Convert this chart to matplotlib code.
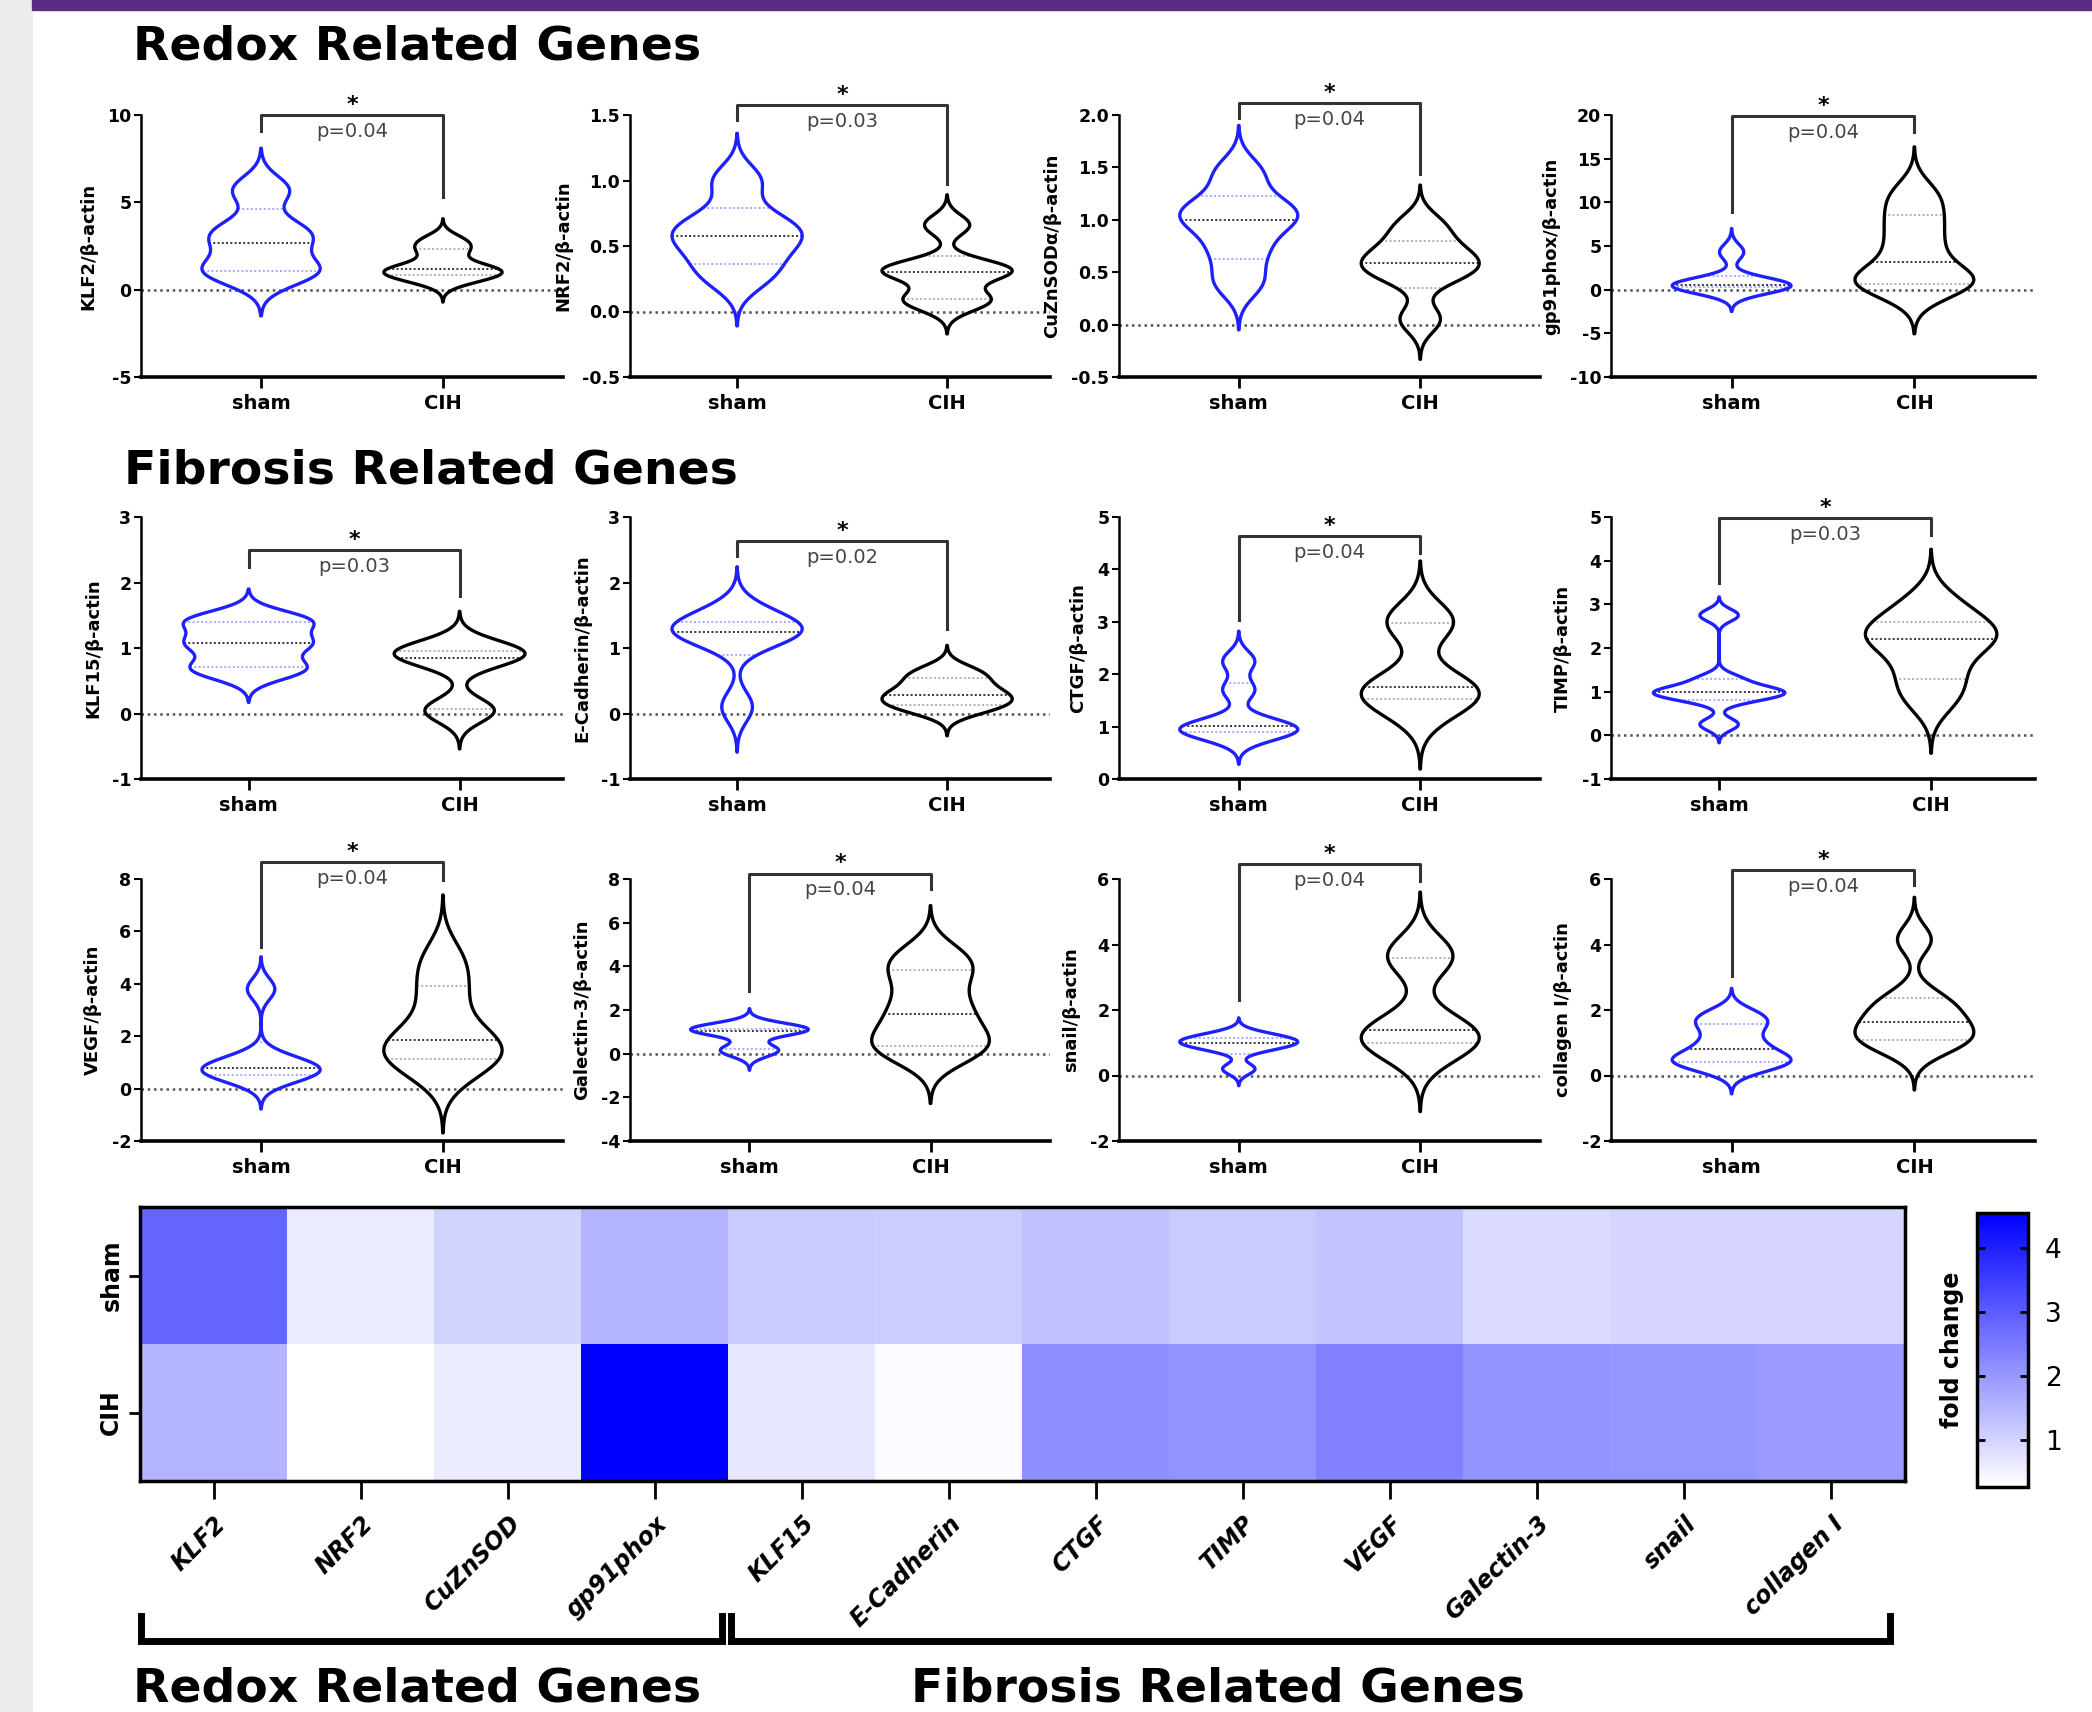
import numpy as np
import matplotlib
matplotlib.use("Agg")
import matplotlib.pyplot as plt
import matplotlib.transforms as mtransforms
from matplotlib.colors import LinearSegmentedColormap
from matplotlib.patches import Rectangle
from matplotlib.lines import Line2D

plt.rcParams["font.family"] = "DejaVu Sans"
plt.rcParams["axes.unicode_minus"] = False

# ---------------- data ----------------
genes = ["KLF2", "NRF2", "CuZnSOD", "gp91phox", "KLF15", "E-Cadherin",
         "CTGF", "TIMP", "VEGF", "Galectin-3", "snail", "collagen I"]
ylabels = ["KLF2/β-actin", "NRF2/β-actin", "CuZnSODα/β-actin", "gp91phox/β-actin",
           "KLF15/β-actin", "E-Cadherin/β-actin", "CTGF/β-actin", "TIMP/β-actin",
           "VEGF/β-actin", "Galectin-3/β-actin", "snail/β-actin", "collagen I/β-actin"]
groups = ["sham", "CIH"]

sham_vals = [
    [0.9, 1.2, 2.7, 3.5, 5.7],
    [0.25, 0.4, 0.55, 0.6, 0.72, 1.0],
    [0.4, 0.7, 0.95, 1.05, 1.15, 1.45],
    [0.2, 0.35, 0.5, 0.55, 0.7, 4.3],
    [0.62, 0.74, 1.02, 1.12, 1.38, 1.45],
    [0.1, 1.15, 1.2, 1.3, 1.35, 1.55],
    [0.85, 0.92, 0.97, 1.05, 1.7, 2.25],
    [0.25, 0.81, 0.95, 0.99, 1.05, 1.29, 2.75],
    [0.45, 0.56, 0.7, 0.88, 1.1, 3.8],
    [0.05, 0.25, 1.0, 1.08, 1.12, 1.25],
    [0.2, 0.8, 0.95, 1.03, 1.1, 1.25],
    [0.25, 0.45, 0.6, 1.0, 1.5, 1.85],
]
cih_vals = [
    [0.55, 0.9, 1.1, 1.3, 2.2, 2.8],
    [0.06, 0.11, 0.28, 0.32, 0.34, 0.66],
    [0.05, 0.45, 0.55, 0.62, 0.75, 0.95],
    [0.5, 0.77, 1.6, 4.8, 7.8, 10.8],
    [0.0, 0.09, 0.8, 0.9, 0.93, 1.02],
    [0.05, 0.15, 0.25, 0.33, 0.5, 0.65],
    [1.3, 1.6, 1.7, 1.82, 2.95, 3.05],
    [0.85, 1.44, 2.1, 2.3, 2.45, 3.0],
    [0.8, 1.25, 1.6, 2.1, 3.6, 4.9],
    [0.0, 0.45, 1.3, 2.3, 3.6, 4.5],
    [0.7, 1.1, 1.2, 1.6, 3.5, 3.8],
    [0.85, 1.09, 1.3, 1.63, 2.0, 2.38, 4.15],
]
p_values = ["0.04", "0.03", "0.04", "0.04", "0.03", "0.02",
            "0.04", "0.03", "0.04", "0.04", "0.04", "0.04"]

# heatmap of mean fold change
sham_fold = [2.86, 0.61, 1.00, 1.53, 1.16, 1.13, 1.31, 1.16, 1.26, 0.88, 0.98, 0.98]
cih_fold = [1.52, 0.27, 0.59, 4.55, 0.68, 0.37, 2.17, 2.07, 2.39, 2.09, 2.05, 1.95]

# ---------------- styling / layout ----------------
# kernel smoothing of each violin
sham_bw = [0.8, 0.12, 0.15, 0.9, 0.15, 0.23, 0.19, 0.14, 0.41, 0.27, 0.17, 0.27]
cih_bw = [0.42, 0.077, 0.127, 1.85, 0.18, 0.13, 0.37, 0.42, 0.83, 0.76, 0.6, 0.43]

ylims = [(-5, 10), (-0.5, 1.5), (-0.5, 2.0), (-10, 20), (-1, 3), (-1, 3),
         (0, 5), (-1, 5), (-2, 8), (-4, 8), (-2, 6), (-2, 6)]
ysteps = [5, 0.5, 0.5, 5, 1, 1, 1, 1, 2, 2, 2, 2]
narrow, wide = (-0.66, 1.66), (-0.51, 1.49)
xlims = [narrow, wide, narrow, narrow, wide, wide, narrow, wide,
         narrow, narrow, narrow, narrow]
# bracket: top, left leg end, right leg end (data units)
brackets = [(10, 9.1, 5.3), (1.576, 1.46, 0.97), (2.11, 1.97, 1.44), (19.9, 8.9, 18.1),
            (2.49, 2.24, 1.8), (2.63, 2.41, 1.29), (4.64, 3.03, 4.32), (4.98, 3.49, 4.58),
            (8.63, 5.41, 7.95), (8.25, 2.88, 7.56), (6.45, 2.31, 5.95), (6.27, 3.03, 5.83)]

BLUE = "#1f1fff"
W, H = 2092, 1712
rows_y = [(115, 377), (517, 779), (879, 1141)]
cols_x = [(141, 563), (630, 1050), (1119, 1540), (1611, 2035)]


def rect(x0, y0, x1, y1):
    return [x0 / W, 1 - y1 / H, (x1 - x0) / W, (y1 - y0) / H]


def violin(ax, vals, pos, bw, width, edge, qcol):
    vals = np.asarray(vals, float)
    ys = np.linspace(vals.min() - 3 * bw, vals.max() + 3 * bw, 600)
    dens = np.exp(-0.5 * ((ys[:, None] - vals[None, :]) / bw) ** 2).sum(axis=1)
    stats = [dict(coords=ys, vals=dens, mean=vals.mean(), median=np.median(vals),
                  min=ys[0], max=ys[-1])]
    parts = ax.violin(stats, positions=[pos], widths=width, showextrema=False)
    body = parts["bodies"][0]
    body.set_alpha(1)
    body.set_facecolor("none")
    body.set_edgecolor(edge)
    body.set_linewidth(2.4)
    body.set_zorder(3)
    half = dens / dens.max() * width / 2
    q1, q2, q3 = np.percentile(vals, [25, 50, 75], method="weibull")
    for q, c in ((q1, qcol), (q3, qcol), (q2, "#333333")):
        hw = np.interp(q, ys, half)
        ax.plot([pos - hw, pos + hw], [q, q], color=c, lw=1.4, ls=(0, (1, 1.2)), zorder=2)


fig = plt.figure(figsize=(W / 100, H / 100), dpi=100)
fig.patches.append(Rectangle((0, 0), 32 / W, 1, transform=fig.transFigure,
                             color="#ececec", zorder=0))
fig.patches.append(Rectangle((32 / W, 1 - 10 / H), 1, 10 / H, transform=fig.transFigure,
                             color="#5b2c83", zorder=0))

fig.text(133 / W, 1 - 60 / H, "Redox Related Genes", fontsize=34, fontweight="bold",
         va="baseline")
fig.text(124 / W, 1 - 483 / H, "Fibrosis Related Genes", fontsize=34, fontweight="bold",
         va="baseline")

for i in range(12):
    r, c = divmod(i, 4)
    ax = fig.add_axes(rect(cols_x[c][0], rows_y[r][0], cols_x[c][1], rows_y[r][1]))
    xl, yl, step = xlims[i], ylims[i], ysteps[i]
    width = 0.65 if xl == narrow else 0.62

    ax.axhline(0, color="#555555", lw=1.8, ls=(0, (1, 1.5)), zorder=1)
    violin(ax, sham_vals[i], 0, sham_bw[i], width, BLUE, "#a8a8ff")
    violin(ax, cih_vals[i], 1, cih_bw[i], width, "black", "#b0b0b0")

    ax.set_xlim(xl)
    ax.set_ylim(yl)
    ticks = np.arange(yl[0], yl[1] + step / 2, step)
    fmt = "{:.1f}" if step < 1 else "{:.0f}"
    ax.set_yticks(ticks, labels=[fmt.format(t) for t in ticks], fontsize=12.5,
                  fontweight="bold")
    ax.set_xticks([0, 1], labels=groups, fontsize=14, fontweight="bold")
    ax.tick_params(axis="y", length=5, width=1.5, pad=2)
    ax.tick_params(axis="x", length=8, width=2, pad=4)
    for s in ("top", "right"):
        ax.spines[s].set_visible(False)
    ax.spines["left"].set_linewidth(1.8)
    ax.spines["bottom"].set_linewidth(2.6)
    ax.set_ylabel(ylabels[i], fontsize=13, fontweight="bold", labelpad=7)

    top, lft, rgt = brackets[i]
    ax.plot([0, 0, 1, 1], [lft, top, top, rgt], color="#333333", lw=2.2, clip_on=False)
    ax.annotate("*", (0.5, top), xytext=(0, 3), textcoords="offset points",
                ha="center", va="baseline", fontsize=16, fontweight="bold",
                annotation_clip=False)
    ax.annotate(f"p={p_values[i]}", (0.5, top), xytext=(0, -5), textcoords="offset points",
                ha="center", va="top", fontsize=14, color="#444444",
                annotation_clip=False)

# ---------------- heatmap ----------------
cmap = LinearSegmentedColormap.from_list("wb", ["#ffffff", "#0000ff"])
fold = np.array([sham_fold, cih_fold])
hax = fig.add_axes(rect(140, 1207, 1905, 1481))
im = hax.imshow(fold, cmap=cmap, vmin=fold.min(), vmax=fold.max(), aspect="auto",
                interpolation="nearest")
hax.set_xticks(range(len(genes)), labels=genes, rotation=45, ha="right",
               rotation_mode="anchor", fontsize=17, fontweight="bold", fontstyle="italic")
hax.set_yticks([0, 1], labels=groups, rotation=90, va="center", fontsize=17,
               fontweight="bold")
hax.tick_params(axis="x", length=13, width=2, pad=9)
hax.tick_params(axis="y", length=8, width=2, pad=4)
for s in hax.spines.values():
    s.set_linewidth(2.5)

cax = fig.add_axes(rect(1977, 1213, 2028, 1487))
cb = fig.colorbar(im, cax=cax, ticks=[1, 2, 3, 4])
cb.outline.set_linewidth(2.5)
cax.yaxis.set_ticks_position("both")
cax.tick_params(direction="in", length=6, width=2, labelsize=19, pad=12,
                labelleft=False, labelright=True)
cax.yaxis.set_label_position("left")
cax.set_ylabel("fold change", fontsize=17, fontweight="bold", labelpad=9)

# group brackets under the heatmap
trans = mtransforms.blended_transform_factory(hax.transData, fig.transFigure)
y_bar, y_tip = 1 - 1641 / H, 1 - 1616 / H
for x0, x1 in ((-0.49, 3.46), (3.52, 11.4)):
    fig.add_artist(Line2D([x0, x0, x1, x1], [y_tip, y_bar, y_bar, y_tip], transform=trans,
                          color="black", lw=5, solid_joinstyle="miter"))
fig.text(133 / W, 1 - 1702 / H, "Redox Related Genes", fontsize=34, fontweight="bold",
         va="baseline")
fig.text(911 / W, 1 - 1702 / H, "Fibrosis Related Genes", fontsize=34, fontweight="bold",
         va="baseline")

fig.savefig("out.png", dpi=100, facecolor="white")
